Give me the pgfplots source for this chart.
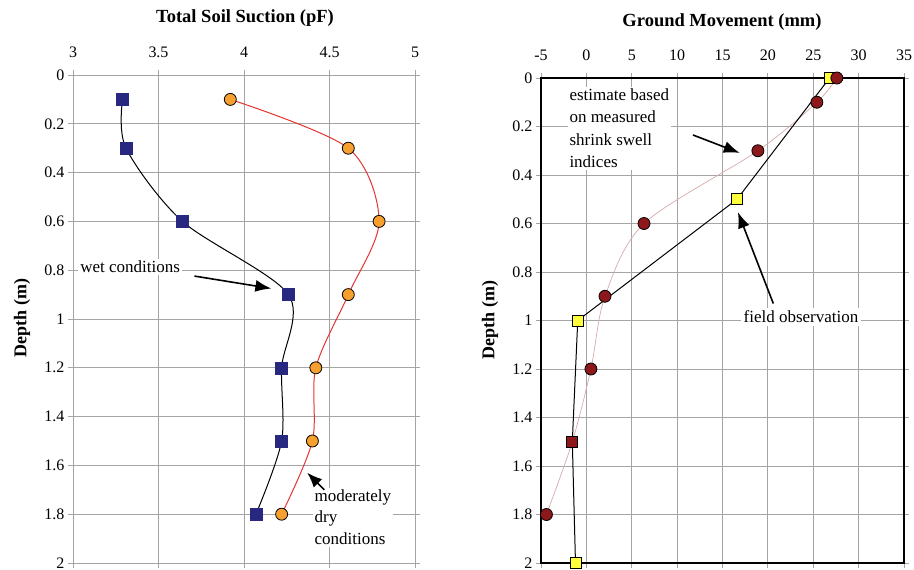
\documentclass[border=0pt]{standalone}
\usepackage{pgfplots}
\pgfplotsset{compat=1.18}
\usepackage{fontspec}
\setmainfont{Liberation Serif}
\usetikzlibrary{arrows.meta}
\definecolor{navyb}{RGB}{40,40,128}
\definecolor{orng}{RGB}{247,160,48}
\definecolor{redl}{RGB}{228,52,50}
\definecolor{dred}{RGB}{140,24,28}
\definecolor{yel}{RGB}{255,255,60}
\definecolor{pinkl}{RGB}{214,170,170}
\definecolor{gridg}{RGB}{165,165,165}
\begin{document}
\begin{tikzpicture}[x=1pt,y=1pt]
\useasboundingbox (0,0) rectangle (914,-570);
\pgfplotsset{
  common/.style={
    scale only axis, anchor=north west, y dir=reverse,
    ymin=0, ymax=2, ytick={0,0.2,0.4,0.6,0.8,1,1.2,1.4,1.6,1.8,2},
    xticklabel pos=top,
    grid=major, major grid style={gridg, line width=0.8pt},
    tick align=outside, major tick length=5pt,
    /pgf/number format/assume math mode=true,
    ticklabel style={font=\fontsize{16}{18}\selectfont},
    xticklabel style={yshift=9pt},
    clip=false,
  }
}
% Left
\begin{axis}[common, at={(73pt,-75pt)}, width=342pt, height=488pt,
  xmin=3, xmax=5, xtick={3,3.5,4,4.5,5},
  axis line style={gridg, line width=0.8pt}, tick style={gridg, line width=0.8pt},
  xticklabel style={/pgf/number format/fixed}]
\addplot[black, line width=1pt, smooth, mark=square*, mark size=6pt,
  mark options={fill=navyb, draw=navyb, line width=0.5pt}]
  coordinates {(3.29,0.1) (3.31,0.3) (3.64,0.6) (4.26,0.9) (4.22,1.2) (4.22,1.5) (4.07,1.8)};
\addplot[redl, line width=1pt, smooth, mark=*, mark size=6pt,
  mark options={fill=orng, draw=black, line width=0.8pt}]
  coordinates {(3.92,0.1) (4.61,0.3) (4.79,0.6) (4.61,0.9) (4.42,1.2) (4.40,1.5) (4.22,1.8)};
\node[fill=white, inner sep=2pt, font=\fontsize{17}{19}\selectfont, anchor=west] at (axis cs:3.03,0.787) {wet conditions};
\draw[-{Latex[length=16pt,width=12pt]}, line width=1.6pt] (axis cs:3.71,0.824) -- (axis cs:4.16,0.875);
\node[fill=white, inner sep=2pt, font=\fontsize{17}{21.5}\selectfont, anchor=north west, align=left] at (axis cs:4.40,1.69) {moderately\\dry\\conditions};
\draw[-{Latex[length=15pt,width=12pt]}, line width=1.6pt] (axis cs:4.47,1.70) -- (axis cs:4.37,1.63);
\end{axis}
% Right
\begin{axis}[common, at={(541pt,-78pt)}, width=363pt, height=485pt,
  xmin=-5, xmax=35, xtick={-5,0,5,10,15,20,25,30,35},
  axis line style={black, line width=1.2pt}, tick style={gridg, line width=0.8pt}]
\addplot[pinkl, line width=0.7pt, smooth, forget plot]
  coordinates {(27.6,0) (25.4,0.1) (18.9,0.3) (6.35,0.6) (2.05,0.9) (0.5,1.2) (-1.55,1.5) (-4.4,1.8)};
\addplot[black, line width=1pt, mark=square*, mark size=5.5pt,
  mark options={fill=yel, draw=black, line width=0.8pt}]
  coordinates {(26.8,0) (16.6,0.5) (-0.95,1.0) (-1.55,1.5) (-1.2,2.0)};
\addplot[only marks, mark=*, mark size=6pt,
  mark options={fill=dred, draw=black, line width=0.8pt}]
  coordinates {(27.6,0) (25.4,0.1) (18.9,0.3) (6.35,0.6) (2.05,0.9) (0.5,1.2) (-4.4,1.8)};
\addplot[only marks, mark=square*, mark size=5.5pt,
  mark options={fill=dred, draw=black, line width=0.8pt}]
  coordinates {(-1.55,1.5)};
\node[fill=white, inner sep=2pt, font=\fontsize{17}{22.5}\selectfont, anchor=north west, align=left] at (axis cs:-2.1,0.035) {estimate based\\on measured\\shrink swell\\indices};
\draw[-{Latex[length=16pt,width=12pt]}, line width=1.6pt] (axis cs:11.75,0.235) -- (axis cs:16.9,0.309);
\node[fill=white, inner sep=3pt, font=\fontsize{17}{19}\selectfont] at (axis cs:23.65,0.985) {field observation};
\draw[-{Latex[length=16pt,width=12pt]}, line width=1.6pt] (axis cs:20.6,0.93) -- (axis cs:16.7,0.553);
\end{axis}
\node[font=\fontsize{18.5}{21}\selectfont\bfseries] at (245,-18) {Total Soil Suction (pF)};
\node[font=\fontsize{18.5}{21}\selectfont\bfseries] at (722,-22) {Ground Movement (mm)};
\node[font=\fontsize{18}{20}\selectfont\bfseries, rotate=90] at (22,-318) {Depth (m)};
\node[font=\fontsize{18}{20}\selectfont\bfseries, rotate=90] at (490,-320) {Depth (m)};
\end{tikzpicture}
\end{document}
